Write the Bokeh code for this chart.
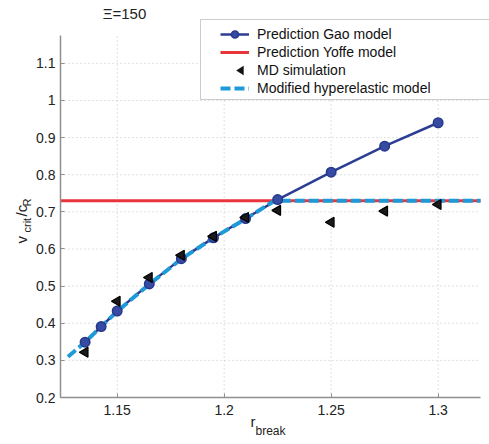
import math
from bokeh.plotting import figure
from bokeh.models import (Range1d, FixedTicker, Legend, LegendItem, Label, BoxAnnotation,
                          PolyAnnotation, CustomJSTickFormatter)
from bokeh.embed import file_html
from bokeh.resources import INLINE

# ---------------- data ----------------
gao_x = [1.135, 1.1425, 1.15, 1.165, 1.18, 1.195, 1.21, 1.225, 1.25, 1.275, 1.30]
gao_y = [0.349, 0.391, 0.433, 0.506, 0.574, 0.630, 0.682, 0.733, 0.807, 0.877, 0.940]

yoffe_x = [1.1235, 1.3198]
yoffe_y = [0.730, 0.730]

md_x = [1.135, 1.15, 1.165, 1.18, 1.195, 1.21, 1.225, 1.25, 1.275, 1.30]
md_y = [0.322, 0.459, 0.523, 0.583, 0.634, 0.685, 0.704, 0.672, 0.702, 0.720]

hyper_x = [1.127, 1.135, 1.1425, 1.15, 1.165, 1.18, 1.195, 1.21, 1.2235, 1.3198]
hyper_y = [0.310, 0.349, 0.391, 0.432, 0.505, 0.573, 0.630, 0.681, 0.730, 0.730]

x_ticks = [1.15, 1.2, 1.25, 1.3]
y_ticks = [0.2, 0.3, 0.4, 0.5, 0.6, 0.7, 0.8, 0.9, 1.0, 1.1]

X_LO, X_HI = 1.1235, 1.3198
Y_LO, Y_HI = 0.2, 1.175

# ---------------- geometry (pixels) ----------------
W, H = 489, 444
FL, FR, FT, FB = 60, 480, 35, 397      # axes box in the page
kx = (FR - FL) / (X_HI - X_LO)
ky = (FB - FT) / (Y_HI - Y_LO)
x_range = Range1d(X_LO - FL / kx, X_HI + (W - FR) / kx)
y_range = Range1d(Y_LO - (H - FB) / ky, Y_HI + FT / ky)

FONT = "Liberation Sans"
TXT = "#222222"

p = figure(width=W, height=H, output_backend="svg", toolbar_location=None, title=None,
           x_range=x_range, y_range=y_range,
           min_border_left=0, min_border_right=0, min_border_top=0, min_border_bottom=0)
p.outline_line_color = None
p.background_fill_color = "white"
p.border_fill_color = "white"
p.xgrid.visible = False
p.ygrid.visible = False

xa, ya = p.xaxis[0], p.yaxis[0]
xa.fixed_location = Y_LO
ya.fixed_location = X_LO
xa.bounds = (X_LO, X_HI)
ya.bounds = (Y_LO, Y_HI)
xa.ticker = FixedTicker(ticks=x_ticks)
ya.ticker = FixedTicker(ticks=y_ticks)
for ax in (xa, ya):
    ax.axis_line_color = "#8f8f8f"
    ax.axis_line_width = 1.5
    ax.major_tick_line_color = "#8f8f8f"
    ax.major_tick_in = 4
    ax.major_tick_out = 0
    ax.minor_tick_line_color = None
    ax.major_label_text_font = FONT
    ax.major_label_text_font_size = "14px"
    ax.major_label_text_color = TXT
xa.major_label_standoff = 7
ya.major_label_standoff = 5
ya.formatter = CustomJSTickFormatter(code="return (Math.round(tick*10)/10).toString();")
xa.formatter = CustomJSTickFormatter(code="return (Math.round(tick*100)/100).toString();")

# dotted grid, bounded to the axes box
p.segment(x0=x_ticks, y0=[Y_LO] * len(x_ticks), x1=x_ticks, y1=[Y_HI] * len(x_ticks),
          line_color="#c2c2c2", line_dash="1 3", line_width=1)
p.segment(x0=[X_LO] * len(y_ticks), y0=y_ticks, x1=[X_HI] * len(y_ticks), y1=y_ticks,
          line_color="#c2c2c2", line_dash="1 3", line_width=1)

# ---------------- glyphs ----------------
r_yoffe = p.line(yoffe_x, yoffe_y, line_color="#e8343b", line_width=3)
r_gao_line = p.line(gao_x, gao_y, line_color="#2c3d92", line_width=2.5)
r_hyper = p.line(hyper_x, hyper_y, line_color="#1e9ad8", line_width=4, line_dash="10 4")
r_gao_pts = p.scatter(gao_x, gao_y, marker="circle", size=9.5, fill_color="#364ba2",
                      line_color="#26388a", line_width=1.5)
r_md = p.scatter(md_x, md_y, marker="triangle", angle=math.pi / 2, size=10,
                 fill_color="#1a1a1a", line_color="black", line_width=1.2)
r_md_key = p.scatter(x=[], y=[], marker="triangle", fill_alpha=0, line_alpha=0)

# ---------------- legend ----------------
p.add_layout(BoxAnnotation(left=200, right=520, top=19, bottom=99,
                           left_units="canvas", right_units="canvas",
                           top_units="canvas", bottom_units="canvas",
                           fill_color="white", fill_alpha=1.0,
                           line_color="#555555", line_width=1))

legend = Legend(items=[
    LegendItem(label="Prediction Gao model", renderers=[r_gao_line, r_gao_pts]),
    LegendItem(label="Prediction Yoffe model", renderers=[r_yoffe]),
    LegendItem(label="MD simulation", renderers=[r_md_key]),
    LegendItem(label="Modified hyperelastic model", renderers=[r_hyper]),
], location=(220, 347))
legend.padding = 3
legend.margin = 0
legend.spacing = 0
legend.label_height = 18
legend.glyph_height = 18
legend.glyph_width = 29
legend.label_standoff = 8
legend.label_text_font = FONT
legend.label_text_font_size = "14px"
legend.label_text_color = "#111111"
legend.border_line_color = None
legend.background_fill_alpha = 0
p.add_layout(legend, "center")

# left-pointing triangle key for the MD entry
p.add_layout(PolyAnnotation(xs=[236, 243, 243], ys=[70, 65.5, 74.5],
                            xs_units="canvas", ys_units="canvas",
                            fill_color="#111111", fill_alpha=1, line_color="black",
                            line_width=1, level="overlay"))

# ---------------- texts ----------------
def lab(text, x, y, size, angle=0.0, baseline="alphabetic", align="left"):
    p.add_layout(Label(text=text, x=x, y=y, x_units="canvas", y_units="canvas",
                       angle=angle, text_font=FONT, text_font_size=size,
                       text_color=TXT, text_baseline=baseline, text_align=align))

lab("\u039E=150", 124, 13, "15px", baseline="middle", align="center")
# x label r_break
lab("r", 250, 421, "15px")
lab("break", 255, 430, "12px")
# y label v_crit / c_R (rotated, reading upwards)
lab("v", 21, 243, "15px", angle=math.pi / 2)
lab("crit", 26, 232, "11px", angle=math.pi / 2)
lab("/c", 21, 216, "15px", angle=math.pi / 2)
lab("R", 26, 206, "11px", angle=math.pi / 2)

open("out.html", "w").write(file_html(p, INLINE))
